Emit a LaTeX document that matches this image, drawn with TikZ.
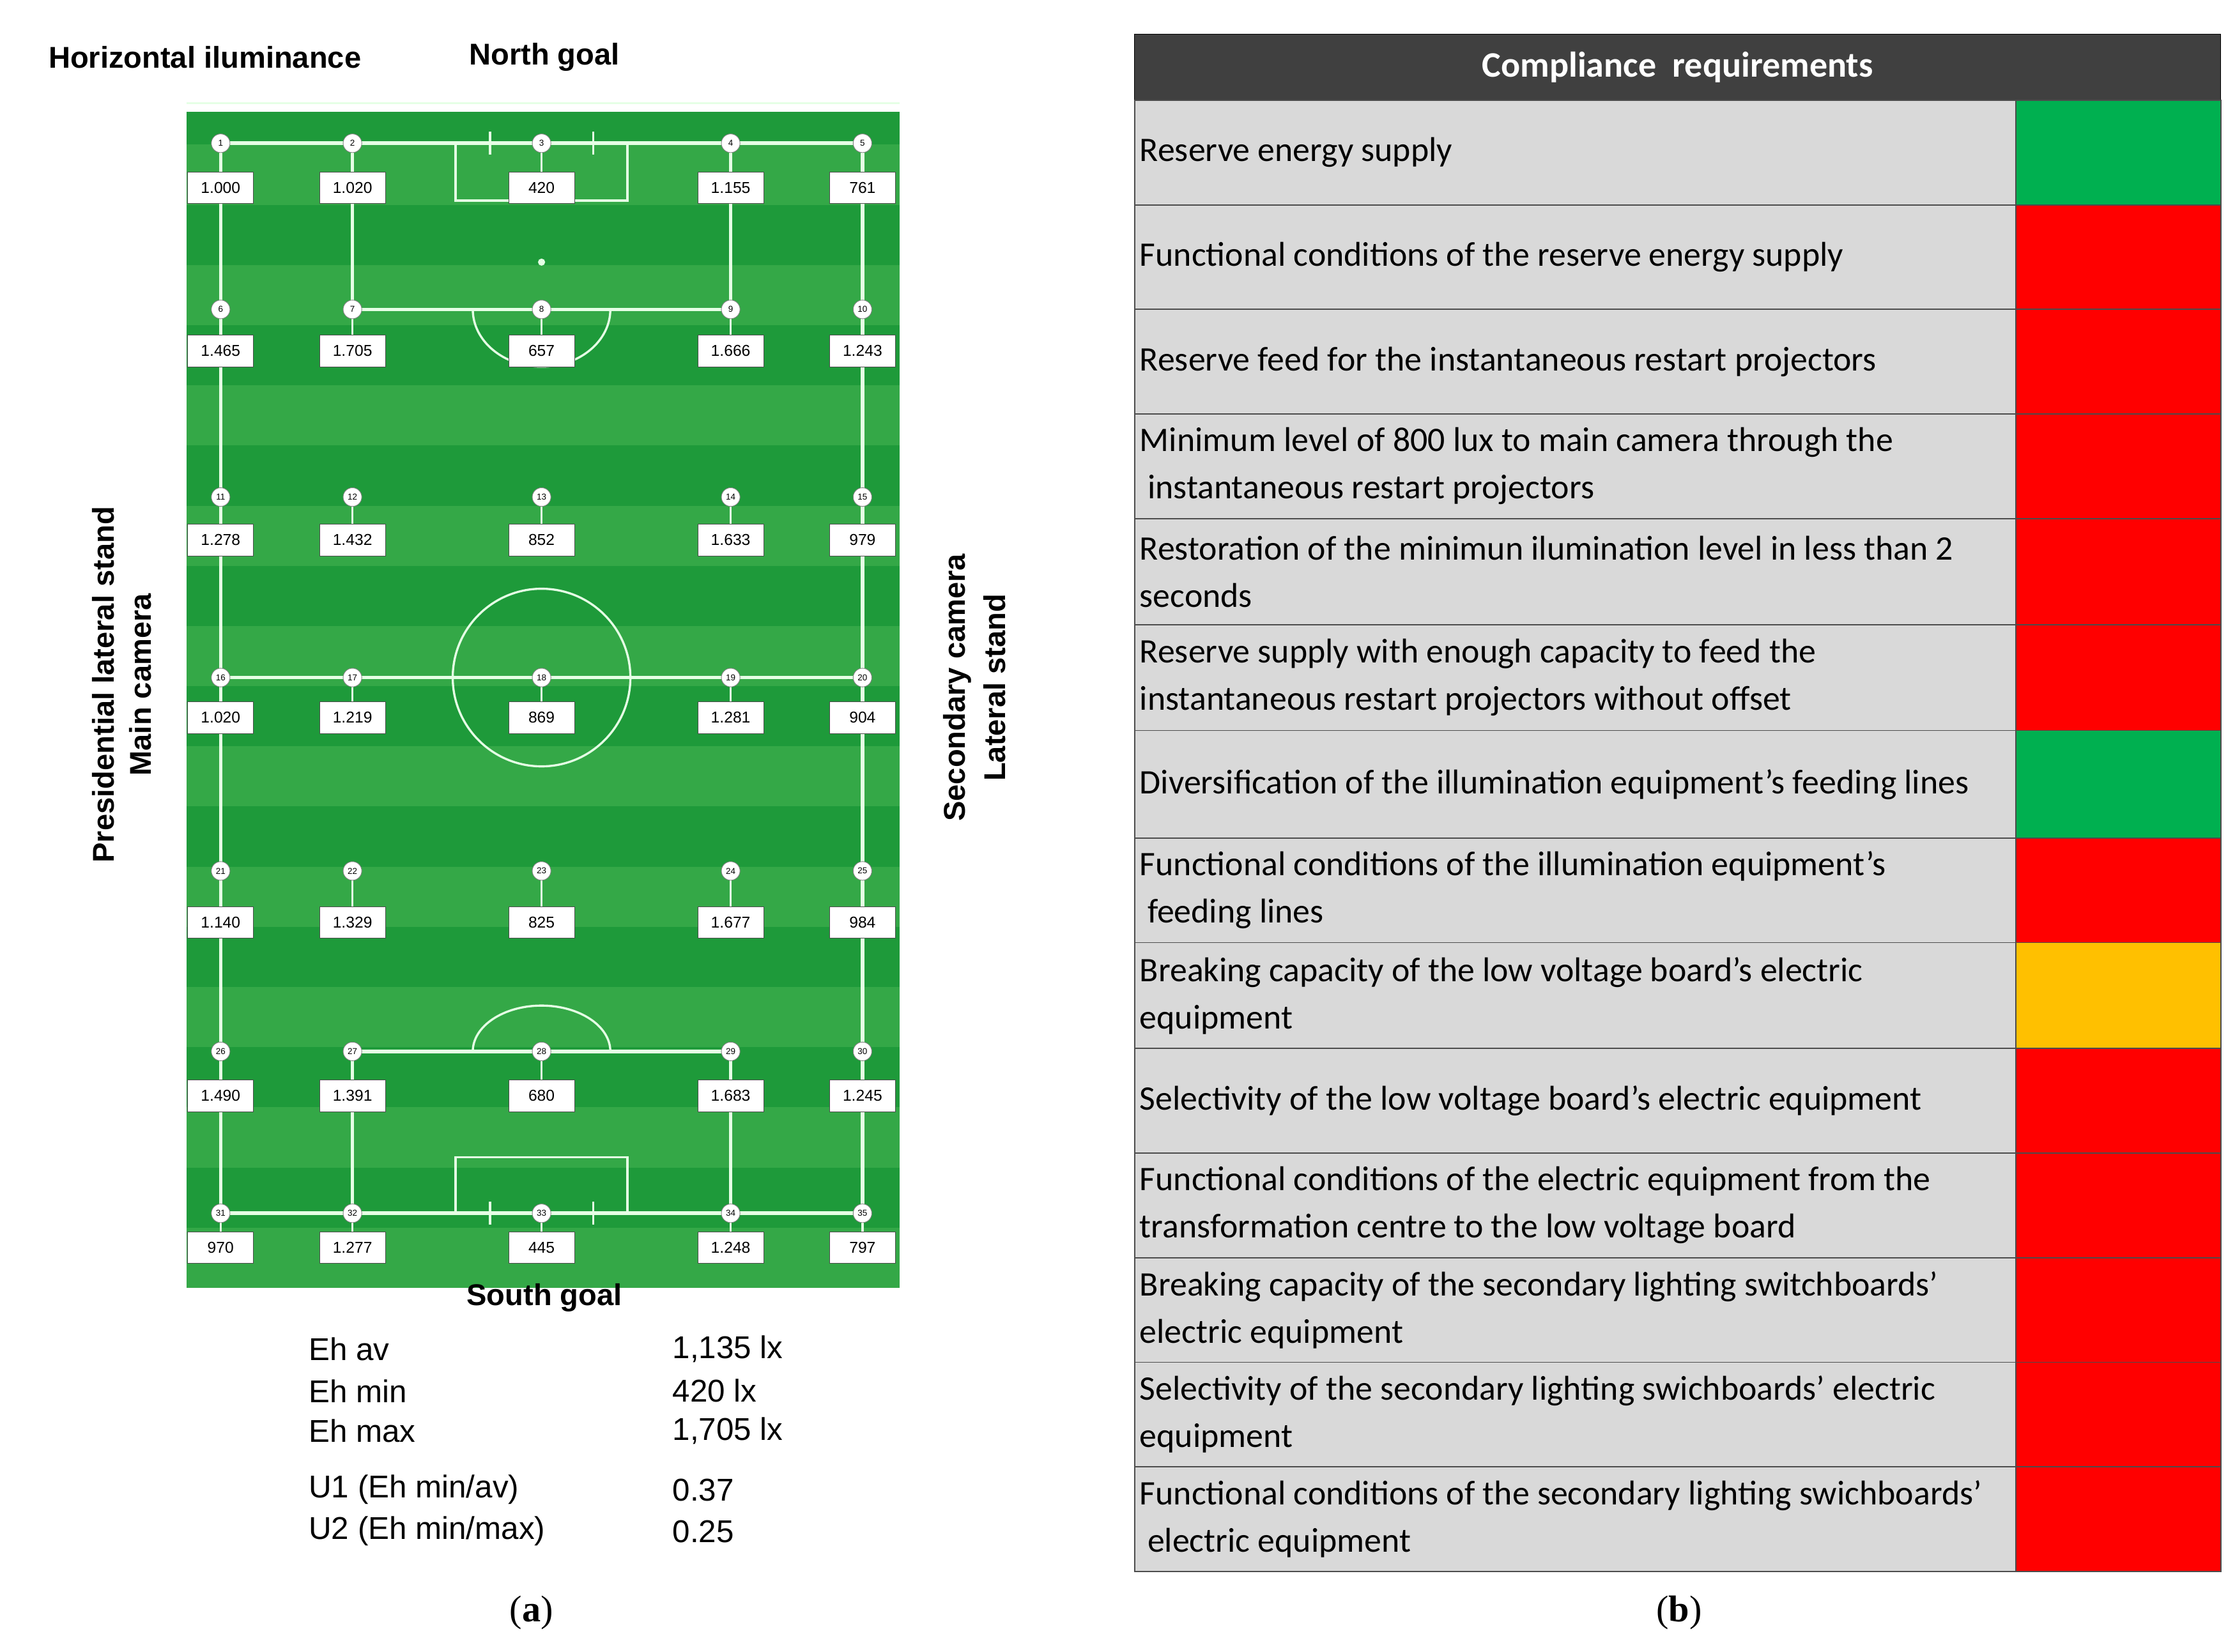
\documentclass[tikz,border=0pt]{standalone}
\usepackage{fontspec}
\setmainfont{Liberation Sans}
\newfontfamily\cali{Carlito}
\newfontfamily\serifcap{Liberation Serif}
\begin{document}
\begin{tikzpicture}[x=1pt,y=-1pt,
  fline/.style={draw=green!10!white,line width=2.5pt},
  thin/.style={draw=green!10!white,line width=1.5pt},
  pt/.style={circle,draw=gray,fill=white,inner sep=0pt,minimum size=13pt,font=\fontsize{6}{6}\selectfont},
  val/.style={draw=black!70,fill=white,inner sep=0pt,minimum width=46pt,minimum height=22pt,font=\fontsize{11}{11}\selectfont},
  ttl/.style={font=\fontsize{21}{24}\selectfont\bfseries},
  stat/.style={anchor=west,font=\fontsize{22}{26}\selectfont},
  req/.style={anchor=west,align=left,font=\cali\fontsize{24}{33}\selectfont},
  rowbox/.style={draw=black!70,fill=black!15,line width=0.8pt}]
\useasboundingbox (0,0) rectangle (1560,1153);
\definecolor{gA}{HTML}{1E9A3A}\definecolor{gB}{HTML}{34A847}
\definecolor{okg}{HTML}{00B050}\definecolor{org}{HTML}{FFC000}
% field
\fill[gA] (130,78) rectangle (628,888);
\foreach \k in {0,...,9} \fill[gB] (130,{101+84*\k}) rectangle (628,{143+84*\k});
\draw[thin] (130,72) -- (628,72);
\draw[fline] (154,100) -- (602,100) -- (602,847) -- (154,847) -- cycle;
\draw[fline] (154,473) -- (602,473);
\draw[fline] (246,100) -- (246,216) -- (510,216) -- (510,100);
\draw[fline] (246,847) -- (246,734) -- (510,734) -- (510,847);
\draw[thin] (318,100) -- (318,140) -- (438,140) -- (438,100);
\draw[thin] (318,847) -- (318,808) -- (438,808) -- (438,847);
\foreach \xx in {342,414} {\draw[thin] (\xx,92) -- (\xx,108); \draw[thin] (\xx,839) -- (\xx,855);}
\draw[thin] (378,473) circle (62);
\draw[thin] (330,216) arc[start angle=180,end angle=360,x radius=48,y radius=-40];
\draw[thin] (330,734) arc[start angle=180,end angle=0,x radius=48,y radius=-32];
\fill[green!10!white] (378,183) circle (2.5);
\foreach \ry/\vy/\vals [count=\r] in {
 100/131/{1.000,1.020,420,1.155,761},
 216/245/{1.465,1.705,657,1.666,1.243},
 347/377/{1.278,1.432,852,1.633,979},
 473/501/{1.020,1.219,869,1.281,904},
 608/644/{1.140,1.329,825,1.677,984},
 734/765/{1.490,1.391,680,1.683,1.245},
 847/871/{970,1.277,445,1.248,797}} {
  \foreach \cx/\v [count=\c] in {154/1,246/2,378/3,510/4,602/5} {
    \pgfmathtruncatemacro\n{(\r-1)*5+\c}
    \draw[thin] (\cx,\ry) -- (\cx,\vy);
    \node[pt] (p\n) at (\cx,\ry) {\n};
  }
  \foreach \val [count=\c] in \vals {
    \pgfmathsetmacro\cx{{154,246,378,510,602}[\c-1]}
    \node[val] (v\r\c) at (\cx,\vy) {\val};
  }
}
\node[ttl] (t1) at (143,40) {Horizontal iluminance};
\node[ttl] (t2) at (380,40) {North goal};
\node[ttl] (t3) at (380,906) {South goal};
\node[ttl,rotate=90] (t4) at (72,478) {Presidential lateral stand};
\node[ttl,rotate=90] (t5) at (98,478) {Main camera};
\node[ttl,rotate=90] (t6) at (668,480) {Secondary camera};
\node[ttl,rotate=90] (t7) at (694,480) {Lateral stand};
\node[stat] (sa1) at (212,942) {Eh av};
\node[stat] (sa2) at (212,971) {Eh min};
\node[stat] (sa3) at (212,999) {Eh max};
\node[stat] (sa4) at (212,1040) {U1 (Eh min/av)};
\node[stat] (sa5) at (212,1069) {U2 (Eh min/max)};
\node[stat] (sb1) at (466,942) {1,135 lx};
\node[stat] (sb2) at (466,971) {420 lx};
\node[stat] (sb3) at (466,999) {1,705 lx};
\node[stat] (sb4) at (466,1040) {0.37};
\node[stat] (sb5) at (466,1069) {0.25};
\node[font=\serifcap\fontsize{26}{30}\selectfont] (ca) at (371,1126) {(\textbf{a})};
\node[font=\serifcap\fontsize{26}{30}\selectfont] (cb) at (1172,1126) {(\textbf{b})};
% table
\draw[fill=black!75,draw=black] (792,24) rectangle (1550,70);
\node[font=\cali\fontsize{25}{28}\selectfont\bfseries,text=white] (hd) at (1171,47) {Compliance\ \ requirements};
\foreach \ya/\yb/\col/\txt [count=\i] in {
 70/143/okg/{Reserve energy supply},
 143/216/red/{Functional conditions of the reserve energy supply},
 216/289/red/{Reserve feed for the instantaneous restart projectors},
 289/362/red/{Minimum level of 800 lux to main camera through the\\\ instantaneous restart projectors},
 362/436/red/{Restoration of the minimun ilumination level in less than 2\\seconds},
 436/510/red/{Reserve supply with enough capacity to feed the\\instantaneous restart projectors without offset},
 510/585/okg/{Diversification of the illumination equipment’s feeding lines},
 585/658/red/{Functional conditions of the illumination equipment’s\\\ feeding lines},
 658/732/org/{Breaking capacity of the low voltage board’s electric\\equipment},
 732/805/red/{Selectivity of the low voltage board’s electric equipment},
 805/878/red/{Functional conditions of the electric equipment from the\\transformation centre to the low voltage board},
 878/951/red/{Breaking capacity of the secondary lighting switchboards’\\electric equipment},
 951/1024/red/{Selectivity of the secondary lighting swichboards’ electric\\equipment},
 1024/1097/red/{Functional conditions of the secondary lighting swichboards’\\\ electric equipment}} {
  \draw[rowbox] (792,\ya) rectangle (1407,\yb);
  \fill[\col] (1407,\ya) rectangle (1550,\yb);
  \draw[black!70,line width=0.8pt] (1407,\ya) rectangle (1550,\yb);
  \node[req] (r\i) at (792,{(\ya+\yb)/2}) {\txt};
}
\end{tikzpicture}
\end{document}
